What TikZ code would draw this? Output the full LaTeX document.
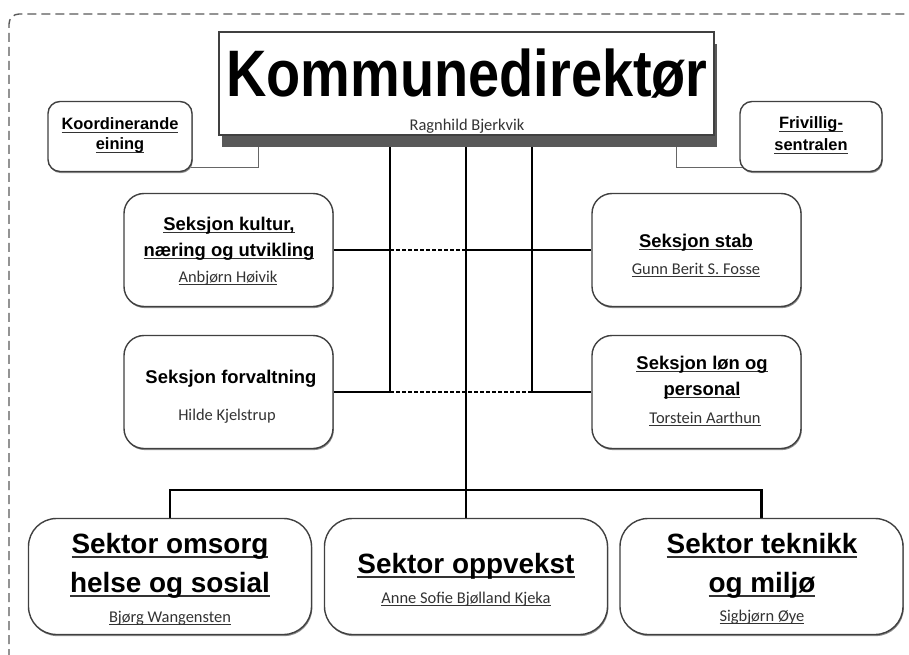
\documentclass[tikz,border=0pt]{standalone}
\usepackage{fontspec}
\usepackage{graphicx}
\setmainfont{Liberation Sans}
\newfontfamily\namefont{Carlito}
\usetikzlibrary{shadows}
\pgfdeclarelayer{bg}
\pgfsetlayers{bg,main}
\newcommand\ulin[3]{\setbox0=\hbox{#3}\leavevmode\rlap{\color{black!80}\rule[-#1]{\wd0}{#2}}\box0}
\tikzset{
  rbox/.style={draw=black!75, line width=1.4bp, fill=white, inner sep=0pt},
  softshadow/.style={drop shadow={shadow xshift=0.8bp, shadow yshift=-1.6bp, fill=black!45, opacity=1}},
  smallbox/.style={rbox, softshadow, rounded corners=12bp, minimum width=144bp, minimum height=70bp},
  secbox/.style={rbox, softshadow, rounded corners=20bp, minimum width=209bp, minimum height=113bp},
  sektbox/.style={rbox, softshadow, rounded corners=28bp, minimum width=283bp, minimum height=116bp},
  conn/.style={line width=2.3bp, black},
  dashconn/.style={line width=1.3bp, black, dash pattern=on 3.5bp off 2.5bp},
  thinconn/.style={line width=1bp, black!60},
  ttl/.style={anchor=base, inner sep=0pt, font=\fontsize{16.5}{18}\selectfont\bfseries},
  sect/.style={anchor=base, inner sep=0pt, font=\fontsize{18.5}{20}\selectfont\bfseries},
  sekt/.style={anchor=base, inner sep=0pt, font=\fontsize{28}{30}\selectfont\bfseries},
  nm/.style={anchor=base, inner sep=0pt, text=black!80, font=\namefont\fontsize{16.5}{18}\selectfont},
}
\begin{document}
\begin{tikzpicture}[x=1bp,y=-1bp]
\useasboundingbox (0,0) rectangle (909,655);
% outer dashed frame
\draw[black!65, line width=1.4bp, dash pattern=on 9bp off 5bp, rounded corners=10bp] (9,700) |- (960,14);

% main box
\node[rbox, minimum width=495bp, minimum height=103bp,
      drop shadow={shadow xshift=3bp, shadow yshift=-12bp, fill=black!65, opacity=1}] (kd) at (466.5,83.5) {};
\node[anchor=base, inner sep=0pt, font=\fontsize{66}{66}\selectfont\bfseries] (kdt) at (467,97) {\scalebox{0.85}[1]{Kommunedirektør}};
\node[nm] (kdn) at (467,131) {Ragnhild Bjerkvik};

% side small boxes
\node[smallbox] (koord) at (120,136.5) {};
\node[ttl] (koordt1) at (120,130) {\ulin{3bp}{1.3bp}{Koordinerande}};
\node[ttl] (koordt2) at (120,150) {\ulin{3bp}{1.3bp}{eining}};

\node[smallbox, minimum width=142bp] (friv) at (811,136.5) {};
\node[ttl] (frivt1) at (811,129) {\ulin{3bp}{1.3bp}{Frivillig-}};
\node[ttl] (frivt2) at (811,151) {\ulin{3bp}{1.3bp}{sentralen}};

% sections
\node[secbox] (kultur) at (228.5,250) {};
\node[sect] (kulturt1) at (229,230) {\ulin{3bp}{1.4bp}{Seksjon kultur,}};
\node[sect] (kulturt2) at (229,256) {\ulin{3bp}{1.4bp}{næring og utvikling}};
\node[nm] (kulturn) at (228,282) {\ulin{2.5bp}{0.8bp}{Anbjørn Høivik}};

\node[secbox] (stab) at (696.5,250) {};
\node[sect] (stabt) at (696,247) {\ulin{3bp}{1.4bp}{Seksjon stab}};
\node[nm] (stabn) at (696,274) {\ulin{2.5bp}{0.8bp}{Gunn Berit S. Fosse}};

\node[secbox] (forv) at (228.5,392) {};
\node[sect] (forvt) at (231,383) {Seksjon forvaltning};
\node[nm] (forvn) at (227,420) {Hilde Kjelstrup};

\node[secbox] (lon) at (696.5,392) {};
\node[sect] (lont1) at (702,369) {\ulin{3bp}{1.4bp}{Seksjon løn og}};
\node[sect] (lont2) at (702,395) {\ulin{3bp}{1.4bp}{personal}};
\node[nm] (lonn) at (705,423) {\ulin{2.5bp}{0.8bp}{Torstein Aarthun}};

% sectors
\node[sektbox] (omsorg) at (170,576.5) {};
\node[sekt] (omsorgt1) at (170,553) {\ulin{5bp}{2bp}{Sektor omsorg}};
\node[sekt] (omsorgt2) at (170,592) {\ulin{5bp}{2bp}{helse og sosial}};
\node[nm] (omsorgn) at (170,622) {\ulin{2.5bp}{0.8bp}{Bjørg Wangensten}};

\node[sektbox] (oppv) at (466,576.5) {};
\node[sekt] (oppvt) at (466,573) {\ulin{5bp}{2bp}{Sektor oppvekst}};
\node[nm] (oppvn) at (466,603) {\ulin{2.5bp}{0.8bp}{Anne Sofie Bjølland Kjeka}};

\node[sektbox] (tek) at (761.5,576.5) {};
\node[sekt] (tekt1) at (762,553) {\ulin{5bp}{2bp}{Sektor teknikk}};
\node[sekt] (tekt2) at (762,592) {\ulin{5bp}{2bp}{og miljø}};
\node[nm] (tekn) at (762,621) {\ulin{2.5bp}{0.8bp}{Sigbjørn Øye}};

% junction coordinates
\coordinate (kl) at (258,146);
\coordinate (kr) at (676,146);
\coordinate (jA) at (390,250);
\coordinate (jB) at (466,250);
\coordinate (jL) at (390,392);
\coordinate (jR) at (532,392);
\coordinate (jM) at (466,490);

\begin{pgfonlayer}{bg}
\draw[thinconn] (koord.center |- 0,167) -| (kl);
\draw[thinconn] (friv.center |- 0,167) -| (kr);
\draw[conn] (kd.south -| jL) -- (jL);
\draw[conn] (kd.south -| jR) -- (jR);
\draw[conn] (kd.south -| jM) -- (oppv.north);
\draw[conn] (kultur.east) -- (jA);
\draw[dashconn] (jA) -- (jB);
\draw[conn] (jB) -- (stab.west);
\draw[conn] (forv.east) -- (jL);
\draw[dashconn] (jL) -- (jR);
\draw[conn] (jR) -- (lon.west);
\draw[conn] (omsorg.north) |- (jM) -| (tek.north);
\end{pgfonlayer}
\end{tikzpicture}
\end{document}
